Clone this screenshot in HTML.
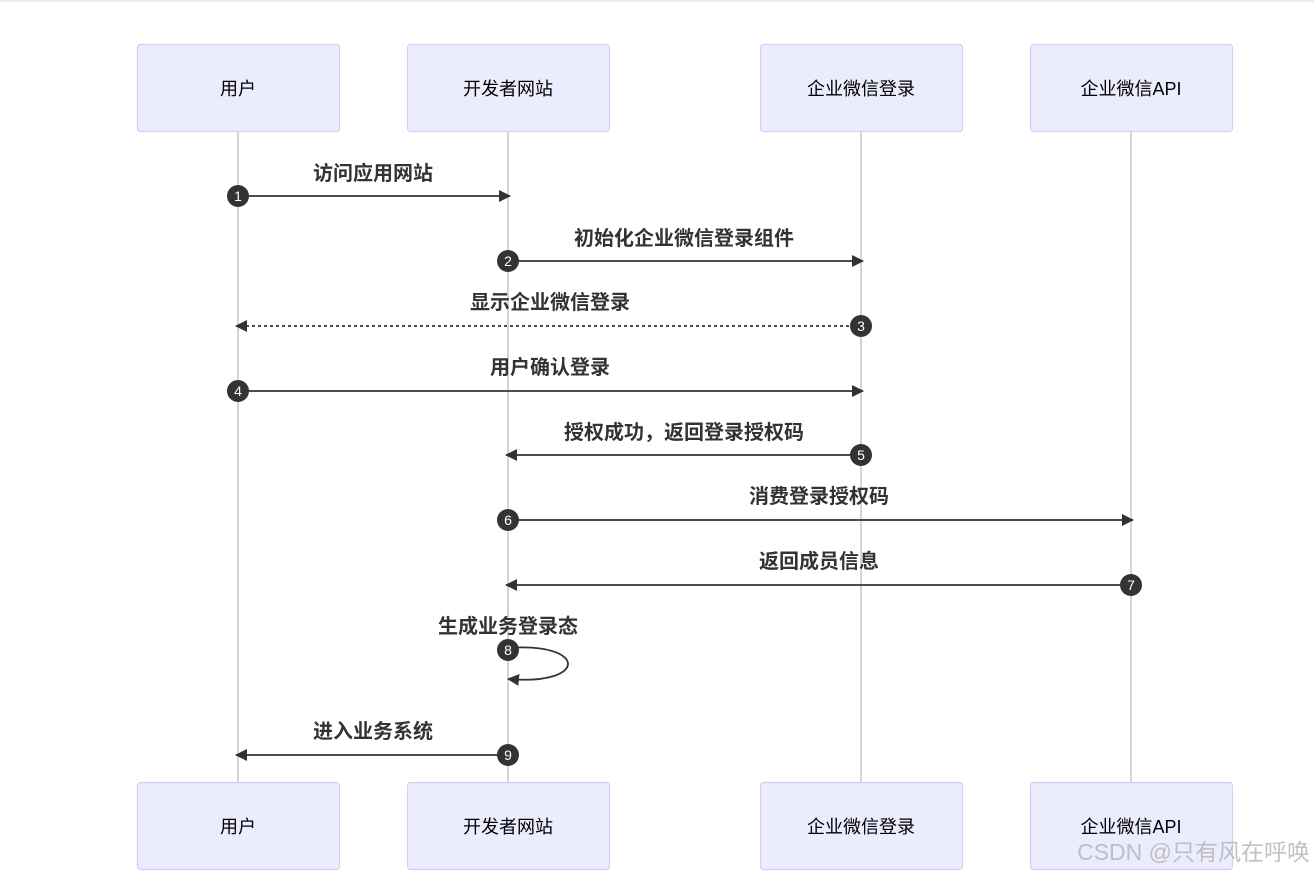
<!DOCTYPE html>
<html><head><meta charset="utf-8"><style>
body{margin:0;background:#fff;}
svg text{font-family:"Liberation Sans","Noto Sans CJK SC",sans-serif;}
.box{fill:#ECECFF;stroke:#D7CCF3;stroke-width:1.2}
.bt{font-size:18px;fill:#000;text-anchor:middle}
.ml{font-size:20px;font-weight:bold;fill:#333;text-anchor:middle}
.ln{stroke:#333;stroke-width:1.8;fill:none}
.num{font-size:14px;fill:#fff;text-anchor:middle}
</style></head><body>
<svg width="1314" height="873" viewBox="0 0 1314 873" xmlns="http://www.w3.org/2000/svg">
<defs><marker id="a" markerWidth="12" markerHeight="12" refX="11" refY="6" orient="auto" markerUnits="userSpaceOnUse"><path d="M0,0 L12,6 L0,12 z" fill="#333"/></marker></defs>
<rect x="0" y="0" width="1314" height="2" fill="#eee"/>
<g stroke="#aaa" stroke-width="1">
<line x1="238" y1="131" x2="238" y2="782"/><line x1="508" y1="131" x2="508" y2="782"/>
<line x1="861" y1="131" x2="861" y2="782"/><line x1="1131" y1="131" x2="1131" y2="782"/></g>
<g>
<rect class="box" x="137.5" y="44.5" width="202" height="87" rx="3"/><text class="bt" x="238" y="95">用户</text>
<rect class="box" x="407.5" y="44.5" width="202" height="87" rx="3"/><text class="bt" x="508" y="95">开发者网站</text>
<rect class="box" x="760.5" y="44.5" width="202" height="87" rx="3"/><text class="bt" x="861" y="95">企业微信登录</text>
<rect class="box" x="1030.5" y="44.5" width="202" height="87" rx="3"/><text class="bt" x="1131" y="95">企业微信API</text>
<rect class="box" x="137.5" y="782.5" width="202" height="87" rx="3"/><text class="bt" x="238" y="833">用户</text>
<rect class="box" x="407.5" y="782.5" width="202" height="87" rx="3"/><text class="bt" x="508" y="833">开发者网站</text>
<rect class="box" x="760.5" y="782.5" width="202" height="87" rx="3"/><text class="bt" x="861" y="833">企业微信登录</text>
<rect class="box" x="1030.5" y="782.5" width="202" height="87" rx="3"/><text class="bt" x="1131" y="833">企业微信API</text>
</g>
<text class="ml" x="373" y="180">访问应用网站</text>
<line class="ln" x1="238" y1="196" x2="510" y2="196" marker-end="url(#a)"/>
<text class="ml" x="684" y="245">初始化企业微信登录组件</text>
<line class="ln" x1="508" y1="261" x2="863" y2="261" marker-end="url(#a)"/>
<text class="ml" x="550" y="309">显示企业微信登录</text>
<line class="ln" x1="861" y1="326" x2="236" y2="326" stroke-dasharray="3,3" marker-end="url(#a)"/>
<text class="ml" x="550" y="374">用户确认登录</text>
<line class="ln" x1="238" y1="391" x2="863" y2="391" marker-end="url(#a)"/>
<text class="ml" x="684" y="439">授权成功，返回登录授权码</text>
<line class="ln" x1="861" y1="455" x2="506" y2="455" marker-end="url(#a)"/>
<text class="ml" x="819" y="503">消费登录授权码</text>
<line class="ln" x1="508" y1="520" x2="1133" y2="520" marker-end="url(#a)"/>
<text class="ml" x="819" y="568">返回成员信息</text>
<line class="ln" x1="1131" y1="585" x2="506" y2="585" marker-end="url(#a)"/>
<text class="ml" x="508" y="633">生成业务登录态</text>
<path class="ln" d="M508,648 C588,642 588,686 508,679" marker-end="url(#a)"/>
<text class="ml" x="373" y="738">进入业务系统</text>
<line class="ln" x1="508" y1="755" x2="236" y2="755" marker-end="url(#a)"/>
<g fill="#333">
<circle cx="238" cy="196" r="11"/><circle cx="508" cy="261" r="11"/><circle cx="861" cy="326" r="11"/>
<circle cx="238" cy="391" r="11"/><circle cx="861" cy="455" r="11"/><circle cx="508" cy="520" r="11"/>
<circle cx="1131" cy="585" r="11"/><circle cx="508" cy="650" r="11"/><circle cx="508" cy="755" r="11"/></g>
<text class="num" x="238" y="201">1</text><text class="num" x="508" y="266">2</text><text class="num" x="861" y="331">3</text>
<text class="num" x="238" y="396">4</text><text class="num" x="861" y="460">5</text><text class="num" x="508" y="525">6</text>
<text class="num" x="1131" y="590">7</text><text class="num" x="508" y="655">8</text><text class="num" x="508" y="760">9</text>
<text x="1310" y="860" font-size="23" fill="#bbb" text-anchor="end" opacity="0.9">CSDN @只有风在呼唤</text>
</svg>
</body></html>
